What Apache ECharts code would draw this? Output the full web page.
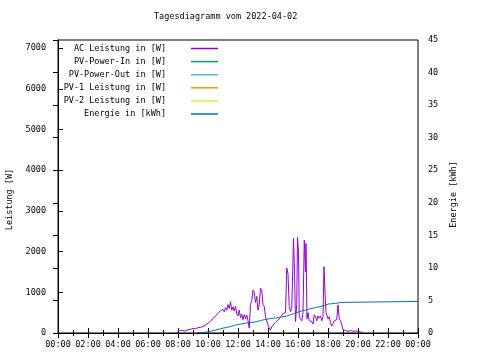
<!DOCTYPE html>
<html><head><meta charset="utf-8">
<script src="https://cdn.jsdelivr.net/npm/echarts@6/dist/echarts.min.js"></script>
<style>html,body{margin:0;padding:0;background:#fff}#c{width:480px;height:360px}</style>
</head><body><div id="c"></div>
<script>
const title = "Tagesdiagramm vom 2022-04-02";
const seriesNames = ["AC Leistung in [W]","PV-Power-In in [W]","PV-Power-Out in [W]","PV-1 Leistung in [W]","PV-2 Leistung in [W]","Energie in [kWh]"];
const seriesColors = ["#9400d3","#009e73","#56b4e9","#e69f00","#f0e442","#0072b2"];

const acTime = ["07:55","08:00","08:05","08:10","08:15","08:20","08:30","08:40","08:50","09:00","09:10","09:20","09:30","09:40","09:50","10:00","10:10","10:20","10:30","10:40","10:50","11:00","11:05","11:10","11:15","11:20","11:25","11:30","11:35","11:40","11:45","11:50","11:55","12:00","12:05","12:10","12:15","12:20","12:25","12:30","12:35","12:40","12:45","12:50","12:55","13:00","13:05","13:10","13:15","13:20","13:25","13:30","13:35","13:40","13:45","13:50","14:00","14:05","14:10","14:15","14:20","14:30","14:40","14:50","15:00","15:05","15:10","15:15","15:20","15:25","15:30","15:35","15:40","15:42","15:46","15:50","15:55","15:58","16:02","16:05","16:10","16:15","16:20","16:25","16:30","16:32","16:36","16:40","16:45","16:50","16:55","17:00","17:05","17:10","17:15","17:20","17:25","17:30","17:35","17:40","17:44","17:48","17:52","18:00","18:05","18:10","18:15","18:20","18:25","18:30","18:35","18:40","18:45","18:50","18:55","19:00","19:10","19:20","19:30","19:40","19:50","20:00","20:10","20:15","20:20"];
const acValue = [0,40,70,30,60,75,50,80,90,115,100,130,140,160,200,240,290,350,420,480,550,580,520,620,560,700,600,770,560,640,540,660,470,420,560,380,460,330,450,350,440,300,120,700,800,1050,1000,750,900,560,700,1100,1050,700,650,400,200,120,70,150,200,260,320,380,480,460,500,1600,1450,650,520,600,560,2330,1500,280,700,2350,2000,400,350,300,500,2280,1500,2200,350,500,300,320,280,220,450,400,300,420,370,420,300,400,1630,1000,500,350,400,250,170,230,300,290,330,690,350,300,200,80,60,40,60,40,50,40,30,20,0];

const enTime = ["09:15","09:30","09:45","10:00","10:15","10:30","10:45","11:00","11:15","11:30","11:45","12:00","12:15","12:30","12:45","13:00","13:15","13:30","13:45","14:00","14:15","14:30","14:45","15:00","15:15","15:30","15:45","16:00","16:15","16:30","16:45","17:00","17:15","17:30","17:45","18:00","18:15","18:30","18:45","19:00","24:00"];
const enValue = [0.05,0.1,0.2,0.3,0.45,0.6,0.75,0.85,1.0,1.15,1.3,1.4,1.5,1.6,1.65,1.75,1.9,2.05,2.15,2.25,2.3,2.4,2.5,2.6,2.8,3.0,3.2,3.4,3.5,3.7,3.8,3.95,4.05,4.2,4.45,4.5,4.55,4.65,4.7,4.85,4.85];

const pvIn = [], pvOut = [], pv1 = [], pv2 = [];

function hrs(s){const p=s.split(":");return +p[0]+ (+p[1])/60;}
function pair(t,v){return t.map((x,i)=>[hrs(x),v[i]]);}
const F = "DejaVu Sans Mono";
const FS = 8.5;

const chart = echarts.init(document.getElementById('c'));
const legends = seriesNames.map((n,i)=>({
  data:[n], right:262, top: 44 + i*13.1, orient:'vertical', align:'right', padding:0,
  icon:'rect', itemWidth:27, itemHeight:1.5, selectedMode:false,
  textStyle:{fontFamily:F,fontSize:FS,color:'#000',padding:[0,20,0,0]}
}));
const dataSets = [pair(acTime,acValue), pvIn, pvOut, pv1, pv2, pair(enTime,enValue)];
chart.setOption({
  animation:false,
  title:{text:title,left:154,top:12,padding:0,textStyle:{fontFamily:F,fontSize:FS,fontWeight:'normal',color:'#000'}},
  legend: legends,
  grid:{left:58,right:62,top:40,bottom:27,containLabel:false,outerBoundsMode:'none',show:true,borderColor:'#000',borderWidth:1,backgroundColor:'transparent'},
  xAxis:[{
    type:'value',min:0,max:24,interval:2,
    axisLine:{show:true,lineStyle:{color:'#000'}},
    axisTick:{inside:true,length:5,lineStyle:{color:'#000'}},
    minorTick:{show:true,splitNumber:2,length:3,lineStyle:{color:'#000'}},
    splitLine:{show:false},
    axisLabel:{margin:7,fontFamily:F,fontSize:FS,color:'#000',formatter:v=>String(v%24).padStart(2,'0')+':00'}
  },{
    type:'value',min:0,max:24,interval:2,position:'top',
    axisLine:{show:true,lineStyle:{color:'#000'}},
    axisTick:{inside:true,length:5,lineStyle:{color:'#000'}},
    minorTick:{show:true,splitNumber:2,length:3,lineStyle:{color:'#000'}},
    splitLine:{show:false},axisLabel:{show:false}
  }],
  yAxis:[{
    type:'value',min:0,max:7200,interval:1000,
    name:'Leistung [W]',nameLocation:'middle',nameGap:44,nameRotate:90,
    nameTextStyle:{fontFamily:F,fontSize:FS,color:'#000',padding:[0,26,0,0]},
    axisLine:{show:true,lineStyle:{color:'#000'}},
    axisTick:{inside:true,length:5,lineStyle:{color:'#000'}},
    splitLine:{show:false},
    axisLabel:{margin:12,fontFamily:F,fontSize:FS,color:'#000',showMaxLabel:false,formatter:v=>String(v)}
  },{
    type:'value',min:0,max:45,interval:5,position:'right',
    name:'Energie [kWh]',nameLocation:'middle',nameGap:30,nameRotate:90,
    nameTextStyle:{fontFamily:F,fontSize:FS,color:'#000',padding:[0,16,0,0]},
    axisLine:{show:true,lineStyle:{color:'#000'}},
    axisTick:{inside:true,length:5,lineStyle:{color:'#000'}},
    splitLine:{show:false},
    axisLabel:{margin:10,fontFamily:F,fontSize:FS,color:'#000',formatter:v=>String(v)}
  }],
  series: seriesNames.map((n,i)=>({
    name:n,type:'line',data:dataSets[i],symbol:'none',
    yAxisIndex: i===5?1:0,
    step: i===5?'end':false,
    lineStyle:{width:1,color:seriesColors[i]},itemStyle:{color:seriesColors[i]},
    z: i===5?3:2
  }))
});
</script></body></html>
